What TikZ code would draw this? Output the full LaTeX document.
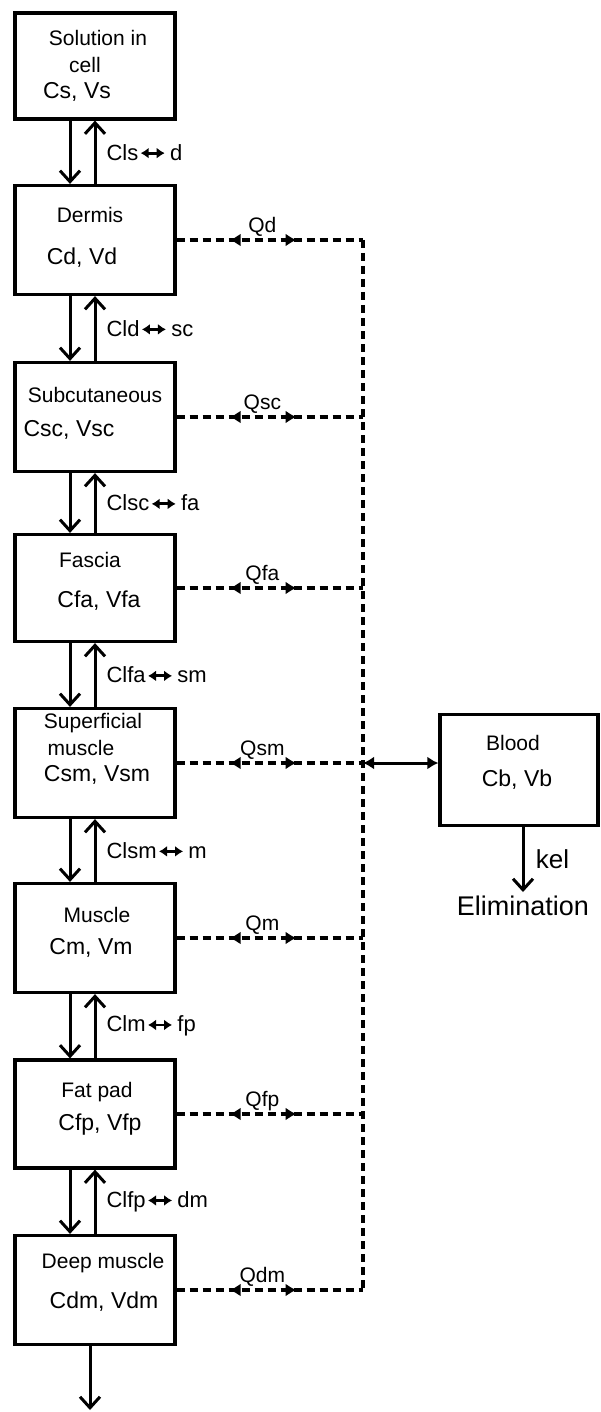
\documentclass[tikz,border=0pt]{standalone}
\usepackage{fontspec}
\setmainfont{Liberation Sans}
\usepackage{tikz}
\usetikzlibrary{arrows.meta}
\usetikzlibrary{decorations.markings}
\def\lrarr{\hspace{1pt}\tikz[baseline=-0.6ex]{
	\draw[line width=2.8pt,{Latex[length=8pt,width=11pt]}-{Latex[length=8pt,width=11pt]}] (0pt,0pt)--(24pt,0pt);}\hspace{4pt}}
\tikzset{
	comp/.style={draw,line width=3.2pt,minimum width=160pt,minimum height=109pt,inner sep=0pt},
	nm/.style={font=\fontsize{21}{24}\selectfont},
	cv/.style={font=\fontsize{23}{26}\selectfont},
	flow/.style={line width=3pt,-{Straight Barb[length=11pt,width=20pt]}},
	dline/.style={line width=3.2pt,dash pattern=on 8pt off 5pt},
	qline/.style={dline,postaction={decorate},decoration={markings,
		mark=at position 53pt with {\arrowreversed{Latex[length=11pt,width=13pt]}},
		mark=at position 120pt with {\arrow{Latex[length=11pt,width=13pt]}}}},
	cl/.style={anchor=west,font=\fontsize{22}{24}\selectfont}
}
\begin{document}
\begin{tikzpicture}[x=1pt,y=-1pt]
				\useasboundingbox (0,0) rectangle (601,1412);
				% compartments
				\node[comp,minimum height=106pt] (sol) at (95,66) {};
				\node[comp] (derm) at (95,240) {};
				\node[comp] (subc) at (95,417) {};
				\node[comp,minimum height=107pt] (fasc) at (95,588) {};
				\node[comp] (supm) at (95,763) {};
				\node[comp] (musc) at (95,938) {};
				\node[comp,minimum height=108pt] (fatp) at (95,1114) {};
				\node[comp] (deep) at (95,1290) {};
				\node[comp,minimum width=158pt,minimum height=111pt] (blood) at (519,770) {};
				% texts in the boxes
				\node[nm] (sol-a) at (98,38) {Solution in};
				\node[nm] (sol-b) at (85,65) {cell};
				\node[cv] (sol-c) at (77,92) {Cs, Vs};
				\node[nm] (derm-a) at (90,215) {Dermis};
				\node[cv] (derm-c) at (82,258) {Cd, Vd};
				\node[nm] (subc-a) at (95,395) {Subcutaneous};
				\node[cv] (subc-c) at (69,430) {Csc, Vsc};
				\node[nm] (fasc-a) at (90,560) {Fascia};
				\node[cv] (fasc-c) at (99,601) {Cfa, Vfa};
				\node[nm] (supm-a) at (93,723) {Superficial};
				\node[nm] (supm-b) at (81,748) {muscle};
				\node[cv] (supm-c) at (97,775) {Csm, Vsm};
				\node[nm] (musc-a) at (97,915) {Muscle};
				\node[cv] (musc-c) at (91,948) {Cm, Vm};
				\node[nm] (fatp-a) at (97,1092) {Fat pad};
				\node[cv] (fatp-c) at (100,1125) {Cfp, Vfp};
				\node[nm] (deep-a) at (103,1263) {Deep muscle};
				\node[cv] (deep-c) at (104,1302) {Cdm, Vdm};
				\node[nm] (blood-a) at (513,743) {Blood};
				\node[cv] (blood-c) at (517,780) {Cb, Vb};
				% exchange between layers
				\foreach \a/\b/\t in {sol/derm/{Cls\lrarr d},derm/subc/{Cld\lrarr sc},subc/fasc/{Clsc\lrarr fa},fasc/supm/{Clfa\lrarr sm},supm/musc/{Clsm\lrarr m},musc/fatp/{Clm\lrarr fp},fatp/deep/{Clfp\lrarr dm}}{
					\draw[flow] ([xshift=-25pt]\a.south) -- ([xshift=-25pt]\b.north);
					\draw[flow] (\b.north) -- (\a.south);
					\path (\a.south) -- (\b.north) node[midway,cl,xshift=8pt] (cl-\a) {\t};
				}
				% blood flows
				\coordinate (bus) at (363,240);
				\foreach \b/\q in {derm/Qd,subc/Qsc,fasc/Qfa,supm/Qsm,musc/Qm,fatp/Qfp,deep/Qdm}{
					\draw[qline] (\b.east) -- (\b.east -| bus) node[pos=.46,above,inner sep=2pt,nm] (q-\b) {\q};
				}
				\draw[dline] (derm.east -| bus) -- (deep.east -| bus);
				\draw[line width=3pt,{Latex[length=11pt,width=13pt]}-{Latex[length=11pt,width=13pt]}] (supm.east -| bus) -- (supm.east -| blood.west);
				% elimination
				\node[anchor=north,font=\fontsize{27}{30}\selectfont] (elim) at (523,892) {Elimination};
				\draw[flow] (elim.north |- blood.south) -- (elim.north) node[midway,right,xshift=8pt,font=\fontsize{26}{28}\selectfont] (kel) {kel};
				\coordinate (out) at (90,1410);
				\draw[flow] (deep.south -| out) -- (out);
\end{tikzpicture}
\end{document}
